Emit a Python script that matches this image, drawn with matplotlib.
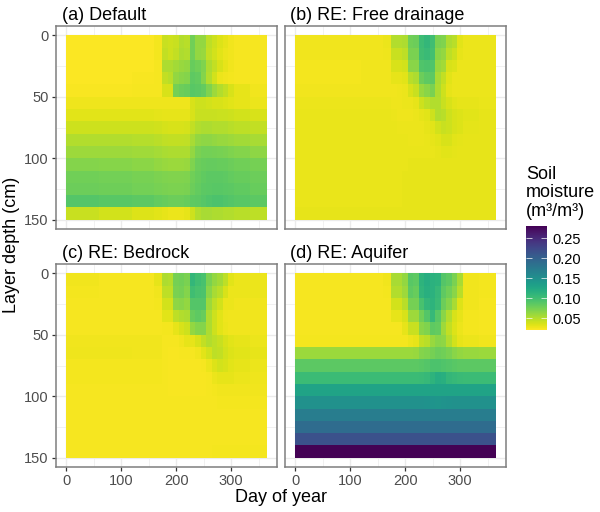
import numpy as np
import matplotlib
matplotlib.use("Agg")
import matplotlib.pyplot as plt

plt.rcParams['font.family'] = ['Liberation Sans', 'DejaVu Sans']

day_edges = [0,60,120,160,175,185,195,205,215,225,235,245,255,265,275,285,295,305,335,365]
depth_edges = [0,10,20,30,40,50,60,70,80,90,100,110,120,130,140,150]

# soil moisture, thousandths of m3/m3; rows = layers, columns = day bins
default = [
 [22,22,22,25,42,40,42,50,48,76,62,62,46,40,34,30,26,24,24],
 [22,22,22,25,44,40,44,52,50,76,62,60,44,38,32,28,26,24,24],
 [22,22,22,24,52,52,56,60,62,80,76,70,52,44,36,30,26,24,24],
 [22,22,23,24,44,48,62,66,68,84,82,68,50,38,28,26,25,24,24],
 [23,23,24,24,36,36,74,78,80,88,86,82,70,58,50,44,36,30,26],
 [27,27,27,27,27,27,27,27,27,36,40,40,38,36,36,34,32,30,28],
 [32,32,32,31,30,30,30,30,30,36,42,42,42,42,41,41,40,38,36],
 [40,40,40,39,37,36,36,36,37,44,50,52,52,50,50,50,48,46,44],
 [50,50,49,47,45,44,44,44,45,54,62,64,64,62,60,60,58,56,54],
 [58,58,57,55,53,52,52,52,52,62,72,75,75,74,73,72,70,68,64],
 [68,67,65,62,60,59,59,59,60,70,78,80,81,81,80,80,78,76,74],
 [76,75,73,71,70,69,69,69,70,76,80,83,85,85,85,84,82,80,78],
 [78,77,75,73,72,71,71,71,72,78,82,85,87,88,88,87,85,83,80],
 [90,88,86,82,80,78,78,78,80,84,86,89,92,94,94,92,90,88,86],
 [42,38,34,32,30,28,28,28,30,40,50,54,54,52,52,50,50,48,46],
]
free_drainage = [
 [26,26,26,28,50,50,52,76,78,102,108,100,72,70,52,48,32,28,28],
 [26,26,26,27,42,42,46,72,72,100,104,98,66,62,46,40,30,28,28],
 [25,25,26,26,36,36,38,66,66,92,94,92,60,56,36,34,28,28,28],
 [25,25,26,26,30,30,32,48,52,78,84,86,54,44,32,28,28,28,28],
 [26,26,26,26,26,27,28,36,42,60,66,72,52,40,30,28,28,28,28],
 [28,28,28,28,27,27,28,28,30,40,46,50,50,42,36,32,30,30,29],
 [29,29,29,29,28,27,27,27,28,30,32,40,50,48,40,36,34,32,30],
 [29,29,29,29,29,28,28,28,28,28,30,32,38,42,40,36,34,31,30],
 [29,29,29,29,29,29,29,28,28,28,29,30,32,36,36,32,31,30,30],
 [29,29,29,29,29,29,29,29,29,29,29,29,30,32,32,31,30,30,30],
 [29,29,29,29,29,29,29,30,30,30,30,30,30,30,30,30,30,30,30],
 [29,29,29,29,29,29,30,30,30,30,30,30,30,30,30,30,30,30,30],
 [29,29,29,29,29,29,30,30,30,30,30,30,30,30,30,30,30,30,30],
 [29,29,29,29,29,29,30,30,30,30,30,30,30,30,30,30,30,30,30],
 [30,30,30,30,30,30,30,30,30,30,30,30,30,30,30,30,30,30,30],
]
bedrock = [
 [26,24,24,30,52,50,74,76,72,108,100,96,72,62,56,46,32,28,28],
 [25,24,24,26,46,46,72,74,68,100,96,94,66,54,48,36,28,28,28],
 [24,24,24,25,38,38,64,66,62,90,90,90,58,46,38,28,28,26,26],
 [24,24,24,24,32,32,46,50,52,80,84,80,52,40,32,27,26,26,26],
 [24,24,24,24,25,25,30,36,40,62,68,68,52,40,32,28,26,26,26],
 [26,26,26,26,24,24,24,26,30,30,36,44,50,46,42,36,32,30,28],
 [27,27,26,26,24,23,23,24,24,24,26,32,38,46,44,38,34,32,30],
 [25,25,25,25,24,23,23,23,23,23,23,24,28,34,38,36,32,30,28],
 [25,25,25,25,24,23,23,23,23,23,23,23,24,28,30,30,30,28,27],
 [24,24,24,24,24,23,23,23,23,23,23,23,24,25,26,26,26,26,26],
 [24,24,24,24,24,24,24,24,24,24,24,24,24,24,25,25,25,25,25],
 [24,24,24,24,24,24,24,24,24,24,24,24,24,24,24,24,24,24,24],
 [24,24,24,24,24,24,24,24,24,24,24,24,24,24,24,24,24,24,24],
 [24,24,24,24,24,24,24,24,24,24,24,24,24,24,24,24,24,24,24],
 [24,24,24,24,24,24,24,24,24,24,24,24,24,25,25,25,25,25,25],
]
aquifer = [
 [24,24,24,26,54,54,62,88,84,112,118,114,112,90,84,72,54,26,25],
 [24,24,24,25,50,50,58,84,80,110,116,114,106,84,76,66,48,26,25],
 [24,24,24,24,38,38,48,74,74,96,108,112,104,78,68,54,34,26,24],
 [24,24,24,24,30,30,36,58,58,76,90,106,88,66,50,36,30,25,24],
 [24,24,24,24,24,24,30,42,42,66,70,84,82,58,44,34,28,25,24],
 [25,25,25,25,25,25,25,28,30,44,48,60,66,64,50,38,30,28,26],
 [59,59,59,59,59,59,59,59,60,68,70,74,78,76,72,66,62,60,59],
 [85,85,85,85,85,85,85,85,85,88,90,94,94,92,90,88,86,85,85],
 [103,103,103,103,103,103,103,103,103,104,106,112,118,116,108,106,104,103,103],
 [129,129,129,129,129,129,129,129,129,129,129,129,129,129,129,129,129,129,129],
 [149,149,149,149,149,149,149,149,149,149,147,145,144,146,148,149,149,149,149],
 [171,171,171,171,171,171,171,171,171,171,171,171,171,171,171,171,171,171,171],
 [189,189,189,189,189,189,189,189,189,189,189,189,189,189,189,189,189,189,189],
 [215,215,215,215,215,215,215,215,215,215,215,215,215,215,215,215,215,215,215],
 [280,280,280,280,280,280,280,280,280,280,280,280,280,280,280,280,280,280,280],
]
panels = [("(a) Default", default), ("(b) RE: Free drainage", free_drainage),
          ("(c) RE: Bedrock", bedrock), ("(d) RE: Aquifer", aquifer)]
x_ticks = [0,100,200,300]
x_minor = [50,150,250,350]
y_ticks = [0,50,100,150]
y_minor = [25,75,125]
legend_ticks = [0.05,0.10,0.15,0.20,0.25]
vmin, vmax = 0.02, 0.28

W, H = 600, 512
fig = plt.figure(figsize=(W/100, H/100), dpi=100)
def rect(l, t, r, b):
    return [l/W, 1-b/H, (r-l)/W, (b-t)/H]
boxes = [(56,26,277,229),(285,26,506,229),(56,264,277,467),(285,264,506,467)]
border = '#7f7f7f'
mesh = None
for i, ((title, z), box) in enumerate(zip(panels, boxes)):
    ax = fig.add_axes(rect(*box))
    ax.set_xlim(-18.25, 383.25)
    ax.set_ylim(157.5, -7.5)
    ax.set_axisbelow(True)
    ax.set_xticks(x_ticks); ax.set_yticks(y_ticks)
    ax.set_xticks(x_minor, minor=True); ax.set_yticks(y_minor, minor=True)
    ax.grid(True, which='major', color='#ebebeb', lw=1.0)
    ax.grid(True, which='minor', color='#ebebeb', lw=0.5)
    ax.tick_params(which='minor', length=0)
    mesh = ax.pcolormesh(day_edges, depth_edges, np.array(z)/1000, cmap='viridis_r',
                         vmin=vmin, vmax=vmax, shading='flat', zorder=2)
    for s in ax.spines.values():
        s.set_color(border); s.set_linewidth(1.1); s.set_zorder(5)
    ax.tick_params(which='major', length=3.2, width=0.9, color='#333333',
                   labelcolor='#4d4d4d', labelsize=10.5, pad=2,
                   left=i in (0,2), bottom=i in (2,3),
                   labelleft=i in (0,2), labelbottom=i in (2,3))
    ax.text(box[0]+5.5, H-box[1]+2, title, transform=None, fontsize=13, color='black',
            ha='left', va='bottom')

fig.text(281/W, 1-497/H, "Day of year", ha='center', va='center', fontsize=13)
fig.text(12/W, 1-245/H, "Layer depth (cm)", rotation=90, ha='center', va='center', fontsize=13)

cax = fig.add_axes(rect(526,226,547,330))
cb = fig.colorbar(mesh, cax=cax, ticks=legend_ticks)
cb.outline.set_visible(False)
cb.ax.set_yticklabels([f"{t:.2f}" for t in legend_ticks])
cb.ax.tick_params(length=4, width=0.5, color='white', direction='in', left=True, right=True,
                  labelsize=10.5, labelcolor='black', pad=4)
fig.text(526/W, 1-220/H, "Soil\nmoisture\n(m³/m³)", ha='left', va='bottom', fontsize=13, linespacing=1.12)
fig.savefig("out.png", dpi=100)
